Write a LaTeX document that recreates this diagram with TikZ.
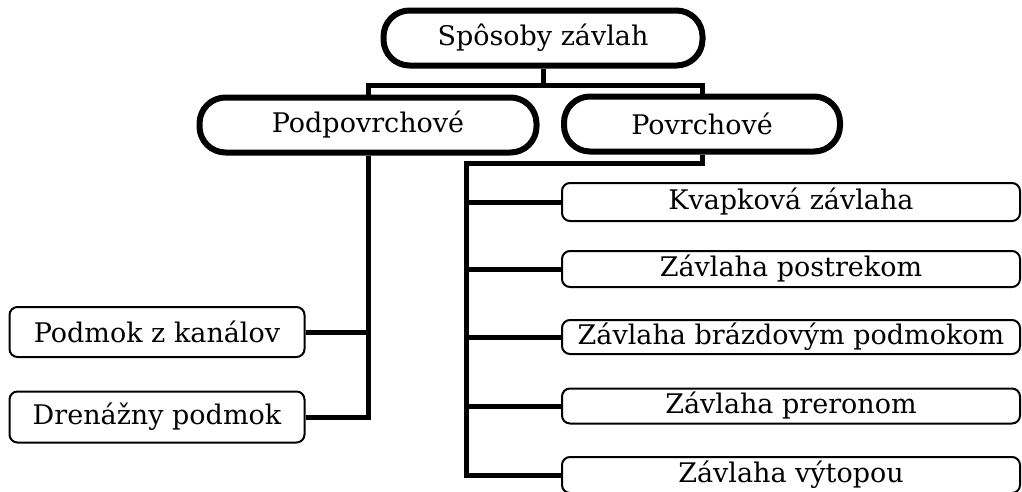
\documentclass[tikz,border=0pt]{standalone}
\usepackage{fontspec}
\setmainfont{DejaVu Serif}
\usepackage{tikz}
\usetikzlibrary{positioning}

\begin{document}
\begin{tikzpicture}[x=1pt,y=-1pt,line width=5pt,
  font=\fontsize{27}{31}\selectfont,
  pill/.style={rectangle,draw,line width=6pt,rounded corners=26pt,minimum height=55pt,inner sep=0pt},
  leaf/.style={rectangle,draw,line width=2pt,rounded corners=8pt,inner sep=0pt}]
 \useasboundingbox (0,0) rectangle (1022,491);

 % 3 main nodes
 \node[pill,minimum width=319pt] (top) at (543,38) {Spôsoby závlah};
 \node[pill,minimum width=337pt] (pod) at (368,125) {Podpovrchové};
 \node[pill,minimum width=276pt] (pov) at (702,124) {Povrchové};

 % under podpovrchove
 \node[leaf,minimum width=295pt,minimum height=50pt] (pk) at (157,332) {Podmok z kanálov};
 \node[leaf,minimum width=295pt,minimum height=51pt] (dp) at (157,417) {Drenážny podmok};

 % under povrchove
 \node[leaf,minimum width=458pt,minimum height=38pt] (kv) at (791,202) {Kvapková závlaha};
 \node[leaf,minimum width=458pt,minimum height=36pt] (zp) at (791,269) {Závlaha postrekom};
 \node[leaf,minimum width=458pt,minimum height=34pt] (zb) at (791,337) {Závlaha brázdovým podmokom};
 \node[leaf,minimum width=458pt,minimum height=35pt] (zr) at (791,406) {Závlaha preronom};
 \node[leaf,minimum width=458pt,minimum height=36pt] (vy) at (791,475) {Závlaha výtopou};

 % connectors
 \coordinate (bar) at (543,85);
 \coordinate (rt) at (466,163);
 \draw (top.south) -- (bar);
 \draw (pod.north) |- (bar) -| (pov.north);
 \draw (pod.south) |- (dp.east);
 \draw (pk.east) -- (pk.east -| pod.south);
 \draw (pov.south) |- (rt) |- (vy.west);
 \foreach \n in {kv,zp,zb,zr}
   \draw (\n.west) -- (\n.west -| rt);
\end{tikzpicture}
\end{document}
